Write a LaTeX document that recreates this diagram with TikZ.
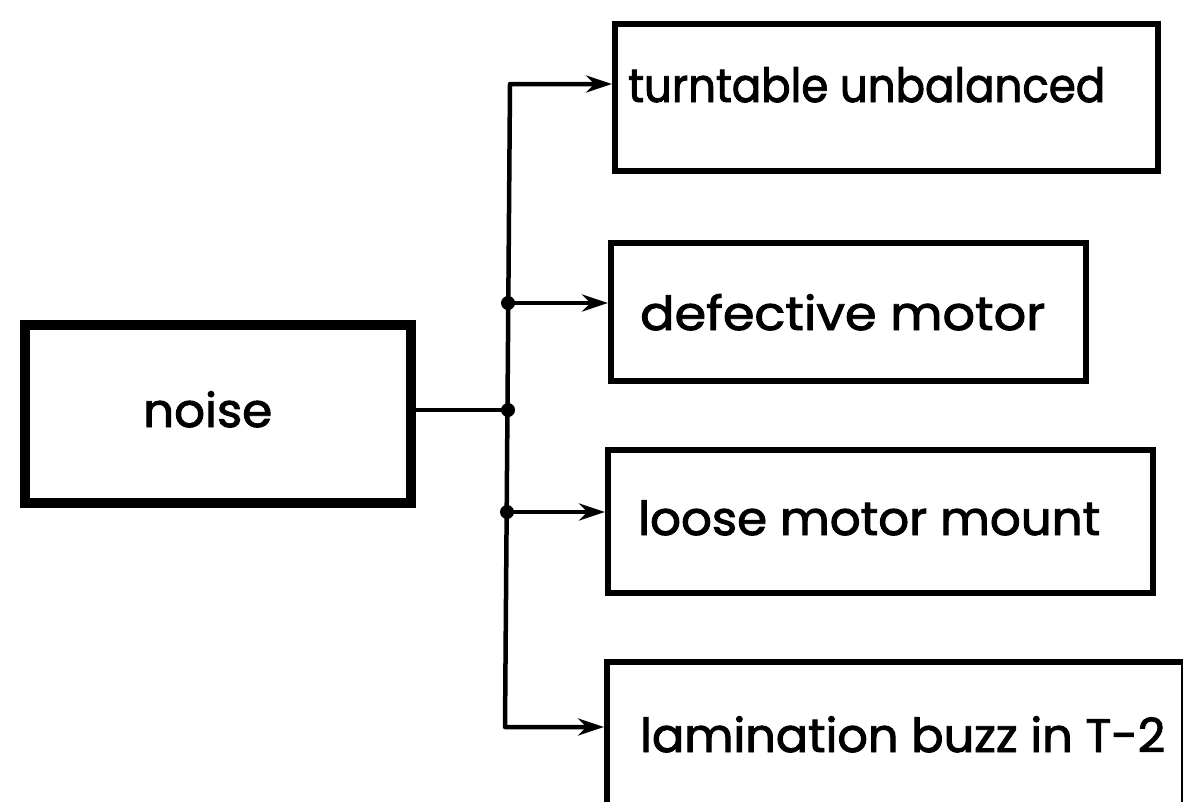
\documentclass[tikz,border=0pt]{standalone}
\usepackage{fontspec}
\usepackage{graphicx}
\setmainfont{Poppins}
\newfontfamily\lettering{Poppins}[FakeBold=2]
\usetikzlibrary{arrows.meta}
\tikzset{
  box/.style={draw, line width=6pt, inner sep=0pt, anchor=north west},
  mainbox/.style={box, line width=10pt},
  lbl/.style={inner sep=0pt, anchor=base west, font=\lettering\fontsize{47}{56}\selectfont},
  conn/.style={line width=4.5pt, line cap=round, line join=round,
    arrows={Stealth[length=26pt,width=17pt]-Stealth[length=26pt,width=17pt]}},
  plain/.style={line width=4.5pt, line cap=round},
  dot/.style={circle, fill=black, inner sep=0pt, minimum size=14pt}
}
\newcommand{\fitw}[2]{\resizebox{#1}{\height}{#2}}
\begin{document}
\begin{tikzpicture}[x=1pt,y=-1pt]
\useasboundingbox (0,0) rectangle (1183,801);
\clip (0,0) rectangle (1183,801);
\fill[white] (0,0) rectangle (1183,801);
% boxes
\node[mainbox, minimum width=386pt, minimum height=178pt] (noise) at (20,320) {};
\node[box, minimum width=543pt, minimum height=147pt] (b1) at (612,21) {};
\node[box, minimum width=475pt, minimum height=138pt] (b2) at (608,240) {};
\node[box, minimum width=545pt, minimum height=143pt] (b3) at (605,447) {};
\node[box, minimum width=577pt, minimum height=160pt] (b4) at (604,659) {};
% labels
\node[lbl] (t0) at (143,427) {\fitw{129pt}{noise}};
\node[lbl] (t1) at (628,102) {\fitw{477pt}{turntable unbalanced}};
\node[lbl] (t2) at (640,330) {\fitw{405pt}{defective motor}};
\node[lbl] (t3) at (638,535) {\fitw{462pt}{loose motor mount}};
\node[lbl] (t4) at (640,752) {\fitw{525pt}{lamination buzz in T-2}};
% junctions
\coordinate (top) at (510,84);
\coordinate (bot) at (505,727);
\node[dot] (j2) at (508,303) {};
\node[dot] (j0) at (508,410) {};
\node[dot] (j3) at (507,512) {};
% connectors
\draw[conn] (top -| b1.west) -- (top) -- (bot) -- (bot -| b4.west);
\draw[plain] (noise.east |- j0) -- (j0.center);
\draw[conn, arrows={-Stealth[length=26pt,width=17pt]}] (j2.center) -- (j2 -| b2.west);
\draw[conn, arrows={-Stealth[length=26pt,width=17pt]}] (j3.center) -- (j3 -| b3.west);
\end{tikzpicture}
\end{document}
